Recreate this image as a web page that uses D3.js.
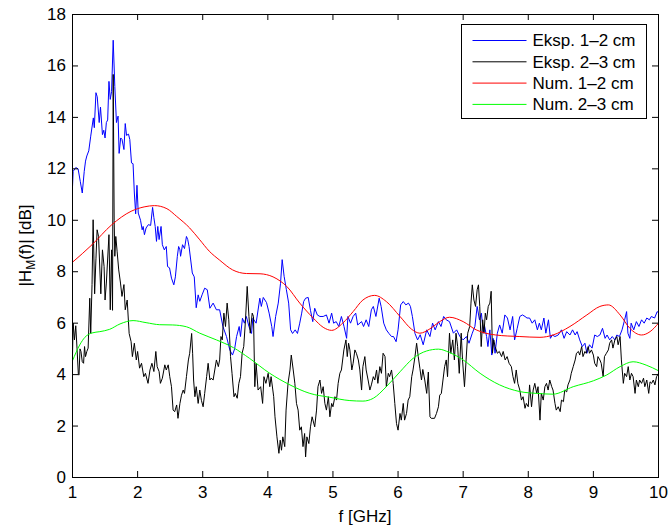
<!DOCTYPE html>
<html>
<head>
<meta charset="utf-8">
<script src="https://cdn.jsdelivr.net/npm/d3@7"></script>
<style>
  body { margin: 0; background: #fff; }
  text { font-family: "Liberation Sans", Arial, Helvetica, sans-serif; fill: #000; }
  .tick text { font-size: 17px; }
  .label { font-size: 17px; }
  .legend text { font-size: 17px; }
</style>
</head>
<body>
<div class="svg-container"></div>
<script>
var height = 529;
var width = 671;

var padding = { "top": 14,
                "right": 13,
                "bottom": 52,
                "left": 72 };

var plotW = 586;
var plotH = 463;

// axis ticks
var xTicks = [1, 2, 3, 4, 5, 6, 7, 8, 9, 10];
var yTicks = [0, 2, 4, 6, 8, 10, 12, 14, 16, 18];

var seriesNames = ["Eksp. 1\u20132 cm", "Eksp. 2\u20133 cm", "Num. 1\u20132 cm", "Num. 2\u20133 cm"];
var seriesColors = ["#0000ff", "#000000", "#ff0000", "#00ff00"];

// measured, 1-2 cm  [f GHz, dB]
var eksp12 = [[1.00,11.3],[1.01,11.9],[1.05,12.05],[1.086,12.0],[1.12,11.5],[1.15,11.06],[1.18,11.9],[1.20,12.3],[1.22,12.5],[1.25,12.7],
  [1.28,13.27],[1.32,13.98],[1.335,13.6],[1.36,14.96],[1.38,14.8],[1.41,13.8],[1.43,14.4],[1.46,13.33],[1.48,13.5],[1.50,13.2],
  [1.52,13.8],[1.54,13.9],[1.56,15.4],[1.58,14.7],[1.60,15.0],[1.625,17.0],[1.65,15.2],[1.675,13.8],[1.70,14.05],[1.716,12.6],
  [1.74,13.2],[1.76,13.15],[1.79,12.75],[1.81,13.76],[1.83,13.3],[1.86,13.35],[1.88,13.14],[1.906,12.23],[1.93,12.2],[1.95,11.06],
  [1.97,10.25],[1.99,11.36],[2.01,10.28],[2.045,10.0],[2.07,9.63],[2.085,9.76],[2.105,9.44],[2.13,9.7],[2.165,9.83],[2.20,9.8],
  [2.23,10.5],[2.25,10.1],[2.27,9.76],[2.29,9.18],[2.31,9.76],[2.33,9.25],[2.36,9.76],[2.38,9.05],[2.41,8.85],[2.44,8.98],
  [2.46,8.2],[2.49,8.15],[2.52,7.75],[2.556,7.49],[2.58,7.8],[2.61,8.6],[2.63,8.98],[2.65,8.85],[2.66,8.6],[2.69,9.05],
  [2.72,8.9],[2.75,9.37],[2.77,9.25],[2.79,8.98],[2.84,7.95],[2.87,7.8],[2.90,6.6],[2.93,7.1],[2.955,6.85],[2.99,7.1],
  [3.03,7.36],[3.07,7.3],[3.11,6.58],[3.16,6.78],[3.21,6.52],[3.26,6.52],[3.31,5.87],[3.365,5.48],[3.416,4.96],[3.457,4.76],
  [3.49,5.0],[3.52,5.48],[3.56,5.87],[3.58,5.48],[3.61,6.19],[3.64,6.0],[3.67,6.26],[3.71,5.87],[3.75,5.6],[3.77,6.19],
  [3.82,6.0],[3.877,6.97],[3.90,6.65],[3.93,7.0],[3.98,6.8],[4.02,6.39],[4.06,5.87],[4.08,5.48],[4.12,6.26],[4.16,6.78],
  [4.195,7.55],[4.22,8.47],[4.25,7.82],[4.285,7.3],[4.32,6.78],[4.35,5.74],[4.38,5.6],[4.42,5.74],[4.455,5.6],[4.49,6.0],
  [4.52,6.39],[4.55,6.84],[4.58,6.97],[4.62,7.0],[4.655,6.5],[4.69,6.06],[4.72,6.58],[4.76,6.32],[4.80,6.26],[4.85,6.26],
  [4.90,6.32],[4.94,6.0],[4.98,6.39],[5.01,6.0],[5.05,6.06],[5.09,5.87],[5.13,6.26],[5.17,5.87],[5.21,5.41],[5.23,6.26],
  [5.27,6.0],[5.31,6.26],[5.35,6.39],[5.38,5.93],[5.44,6.06],[5.47,5.87],[5.51,6.13],[5.55,5.87],[5.59,6.52],[5.62,6.65],
  [5.66,6.26],[5.71,6.97],[5.74,6.65],[5.78,6.0],[5.82,5.74],[5.86,5.6],[5.90,5.48],[5.93,5.48],[5.97,5.28],[6.00,5.74],
  [6.04,6.71],[6.08,6.84],[6.12,6.71],[6.16,6.78],[6.19,6.65],[6.22,6.26],[6.26,5.6],[6.30,5.35],[6.34,5.55],[6.386,5.16],
  [6.44,5.74],[6.49,5.48],[6.53,6.0],[6.57,5.74],[6.62,6.06],[6.66,5.87],[6.70,6.26],[6.74,6.13],[6.79,6.06],[6.85,5.61],
  [6.90,5.74],[6.95,5.48],[7.00,5.35],[7.05,5.48],[7.09,5.22],[7.14,5.61],[7.18,5.87],[7.215,6.65],[7.25,6.13],[7.28,6.39],
  [7.31,5.61],[7.33,5.87],[7.36,5.48],[7.38,5.09],[7.41,5.74],[7.44,4.76],[7.46,5.41],[7.49,4.83],[7.525,5.61],[7.56,5.93],
  [7.60,5.61],[7.64,6.32],[7.68,6.2],[7.72,5.74],[7.76,6.26],[7.79,5.35],[7.83,5.8],[7.87,6.26],[7.91,6.32],[7.95,6.26],
  [7.98,6.2],[8.02,6.2],[8.06,6.0],[8.10,6.13],[8.14,5.74],[8.17,6.0],[8.20,5.74],[8.24,6.2],[8.27,5.61],[8.31,6.13],
  [8.34,5.41],[8.37,5.54],[8.41,5.48],[8.46,5.54],[8.51,5.74],[8.55,5.41],[8.59,5.67],[8.64,5.54],[8.68,5.74],[8.72,5.54],
  [8.75,5.67],[8.79,5.35],[8.83,5.09],[8.87,5.22],[8.90,4.83],[8.94,5.16],[8.98,5.03],[9.02,5.54],[9.06,5.48],[9.10,5.54],
  [9.14,5.8],[9.18,5.41],[9.21,5.54],[9.25,5.35],[9.29,5.48],[9.33,5.35],[9.36,5.54],[9.40,5.48],[9.44,5.74],[9.48,6.13],
  [9.51,6.45],[9.53,5.61],[9.56,5.41],[9.58,6.0],[9.62,5.74],[9.66,6.06],[9.70,5.87],[9.74,6.13],[9.78,6.0],[9.82,6.2],
  [9.86,6.13],[9.89,6.26],[9.94,6.2],[9.98,6.45],[10.0,6.4]];

// measured, 2-3 cm
var eksp23 = [[1.00,4.76],[1.01,6.0],[1.03,5.35],[1.05,5.9],[1.07,5.0],[1.09,4.0],[1.10,3.98],[1.115,5.0],[1.13,4.9],[1.15,4.5],
  [1.17,4.44],[1.185,5.09],[1.20,4.7],[1.22,4.9],[1.24,5.03],[1.265,6.97],[1.28,5.6],[1.30,7.5],[1.317,10.02],[1.34,7.14],
  [1.36,8.5],[1.378,9.63],[1.40,9.37],[1.435,7.14],[1.46,8.85],[1.485,8.2],[1.50,6.9],[1.52,7.56],[1.56,9.44],[1.58,6.52],
  [1.60,8.85],[1.615,6.5],[1.625,15.67],[1.64,10.0],[1.65,8.6],[1.665,9.37],[1.685,8.8],[1.71,8.07],[1.737,7.56],[1.76,7.04],
  [1.79,7.5],[1.81,6.52],[1.84,6.9],[1.87,5.6],[1.90,5.28],[1.92,4.7],[1.95,5.22],[1.98,4.57],[2.00,4.9],[2.03,4.25],
  [2.06,4.44],[2.095,3.92],[2.12,4.05],[2.16,3.66],[2.19,4.18],[2.22,4.44],[2.25,4.12],[2.28,4.9],[2.30,4.31],[2.33,4.12],
  [2.35,3.66],[2.38,3.86],[2.418,4.38],[2.44,4.18],[2.47,4.38],[2.494,3.92],[2.52,3.53],[2.545,2.62],[2.57,2.56],[2.60,2.82],
  [2.62,2.3],[2.65,2.88],[2.674,3.2],[2.70,3.4],[2.72,3.27],[2.75,3.92],[2.78,4.57],[2.80,4.83],[2.83,5.6],[2.845,4.83],
  [2.86,3.79],[2.88,3.14],[2.90,3.53],[2.93,2.88],[2.955,3.4],[2.98,3.0],[3.006,2.75],[3.03,3.27],[3.06,3.92],[3.083,4.44],
  [3.11,3.79],[3.13,3.86],[3.16,3.79],[3.185,4.18],[3.21,4.57],[3.24,4.31],[3.26,4.57],[3.28,5.48],[3.30,5.35],[3.325,6.39],
  [3.35,5.87],[3.375,6.78],[3.40,6.13],[3.427,4.7],[3.45,4.05],[3.48,3.14],[3.50,3.27],[3.53,3.08],[3.555,3.66],[3.58,3.92],
  [3.605,4.83],[3.63,5.09],[3.657,6.13],[3.683,7.43],[3.71,6.26],[3.73,5.61],[3.76,6.39],[3.78,6.26],[3.80,3.53],[3.82,4.44],
  [3.85,3.4],[3.89,3.53],[3.92,2.88],[3.94,3.92],[3.97,3.66],[4.005,4.05],[4.03,3.53],[4.05,3.92],[4.09,3.14],[4.11,2.36],
  [4.14,1.58],[4.17,0.94],[4.19,1.45],[4.21,1.06],[4.23,1.58],[4.26,1.2],[4.28,2.62],[4.31,3.66],[4.34,4.18],[4.36,4.76],
  [4.39,4.18],[4.415,3.66],[4.44,2.88],[4.465,2.62],[4.49,1.84],[4.515,1.97],[4.54,1.2],[4.565,1.71],[4.58,0.8],[4.60,1.58],
  [4.63,1.32],[4.655,1.97],[4.68,2.36],[4.72,1.97],[4.748,2.62],[4.77,3.53],[4.80,3.79],[4.825,3.27],[4.85,3.53],[4.876,2.88],
  [4.90,2.62],[4.93,3.14],[4.953,2.36],[4.98,2.88],[5.00,2.75],[5.03,3.14],[5.055,3.01],[5.08,3.66],[5.106,4.05],[5.13,4.18],
  [5.168,4.96],[5.20,5.35],[5.22,4.7],[5.24,5.22],[5.26,4.96],[5.29,4.18],[5.31,4.44],[5.337,4.96],[5.36,4.83],[5.39,4.57],
  [5.413,4.18],[5.44,3.4],[5.46,4.31],[5.49,4.7],[5.51,4.18],[5.54,3.79],[5.567,3.4],[5.59,3.6],[5.62,3.92],[5.643,3.79],
  [5.67,4.18],[5.69,3.66],[5.72,4.31],[5.745,4.05],[5.77,4.83],[5.80,4.7],[5.82,3.53],[5.85,4.05],[5.87,3.92],[5.90,4.18],
  [5.925,3.66],[5.95,2.88],[5.976,2.1],[6.00,1.84],[6.03,2.49],[6.05,2.23],[6.08,2.88],[6.10,2.23],[6.13,2.49],[6.155,3.01],
  [6.18,3.14],[6.21,3.92],[6.23,4.18],[6.26,4.7],[6.285,5.22],[6.31,4.7],[6.335,4.25],[6.36,3.79],[6.38,4.2],[6.41,3.79],
  [6.44,3.27],[6.465,4.1],[6.49,2.36],[6.51,2.3],[6.56,2.3],[6.59,2.49],[6.62,2.75],[6.64,3.2],[6.665,3.27],[6.69,3.79],
  [6.715,4.31],[6.74,4.57],[6.76,3.92],[6.79,5.61],[6.81,4.83],[6.84,5.35],[6.865,4.57],[6.89,5.61],[6.915,5.09],[6.94,4.05],
  [6.97,5.61],[6.99,4.57],[7.02,3.53],[7.045,4.57],[7.07,5.61],[7.10,5.87],[7.12,6.78],[7.14,7.49],[7.165,6.9],[7.19,6.65],
  [7.215,7.3],[7.235,7.49],[7.255,6.65],[7.277,5.09],[7.30,6.13],[7.32,5.61],[7.34,6.39],[7.36,6.13],[7.385,6.65],[7.41,6.78],
  [7.43,7.24],[7.45,4.83],[7.47,5.35],[7.49,5.09],[7.525,4.83],[7.555,4.9],[7.59,4.7],[7.615,4.9],[7.645,4.57],[7.675,4.7],
  [7.705,4.44],[7.74,4.31],[7.765,3.92],[7.79,3.66],[7.815,4.18],[7.84,3.66],[7.87,3.4],[7.895,3.01],[7.92,3.14],[7.95,2.69],
  [7.97,2.88],[8.00,2.75],[8.02,3.6],[8.05,2.75],[8.075,3.4],[8.10,3.66],[8.13,3.27],[8.15,3.53],[8.18,2.23],[8.20,3.27],
  [8.23,3.01],[8.255,3.53],[8.28,3.66],[8.305,3.4],[8.33,3.79],[8.36,3.53],[8.38,3.4],[8.41,2.88],[8.43,2.62],[8.46,2.75],
  [8.49,2.56],[8.51,3.01],[8.54,2.95],[8.56,3.4],[8.59,3.33],[8.61,3.6],[8.64,3.79],[8.66,4.05],[8.69,4.31],[8.72,4.57],
  [8.74,4.83],[8.77,4.9],[8.79,4.76],[8.82,5.09],[8.84,4.7],[8.87,4.9],[8.89,4.83],[8.92,5.09],[8.94,4.83],[8.97,4.96],
  [9.00,4.76],[9.02,4.44],[9.05,4.31],[9.07,4.7],[9.10,4.57],[9.12,4.44],[9.15,3.92],[9.17,4.7],[9.20,4.83],[9.23,4.96],
  [9.25,5.22],[9.28,5.35],[9.30,5.03],[9.33,5.35],[9.36,5.48],[9.38,5.16],[9.41,5.48],[9.43,4.57],[9.46,3.66],[9.48,4.05],
  [9.51,3.92],[9.535,4.31],[9.56,3.79],[9.585,4.05],[9.61,3.92],[9.64,3.27],[9.66,3.79],[9.69,3.53],[9.71,3.79],[9.74,3.66],
  [9.77,3.86],[9.79,3.53],[9.82,3.79],[9.85,3.27],[9.87,3.72],[9.895,3.66],[9.92,3.79],[9.945,3.6],[9.97,3.92],[10.0,4.05]];

// simulated, 1-2 cm
var num12 = [[1.0,8.37],[1.3,9.05],[1.6,9.82],[1.9,10.35],[2.1,10.52],[2.26,10.57],[2.45,10.45],[2.6,10.15],[2.8,9.7],[2.955,9.24],
  [3.1,8.8],[3.26,8.45],[3.46,8.07],[3.67,7.93],[3.88,7.92],[4.08,7.8],[4.2,7.62],[4.29,7.43],[4.49,6.78],[4.7,6.19],
  [4.85,5.84],[4.98,5.72],[5.15,6.0],[5.31,6.45],[5.46,6.9],[5.64,7.08],[5.82,6.84],[6.03,6.26],[6.21,5.76],[6.335,5.61],
  [6.49,5.78],[6.64,6.06],[6.79,6.23],[7.0,6.06],[7.2,5.74],[7.5,5.54],[7.87,5.48],[8.18,5.45],[8.38,5.54],[8.64,5.87],
  [8.9,6.32],[9.1,6.65],[9.23,6.71],[9.41,6.32],[9.56,5.8],[9.74,5.54],[9.87,5.67],[10.0,6.0]];

// simulated, 2-3 cm
var num23 = [[1.0,4.54],[1.11,5.15],[1.19,5.45],[1.3,5.62],[1.42,5.67],[1.57,5.76],[1.73,5.97],[1.93,6.1],[2.13,6.02],[2.34,5.94],
  [2.54,5.93],[2.75,5.86],[2.955,5.61],[3.21,5.35],[3.47,5.05],[3.72,4.63],[4.03,4.05],[4.34,3.6],[4.645,3.27],[4.95,3.12],
  [5.26,2.99],[5.46,2.97],[5.62,3.08],[5.82,3.53],[6.03,4.11],[6.23,4.63],[6.44,4.92],[6.62,4.99],[6.79,4.86],[7.0,4.57],
  [7.26,4.05],[7.56,3.6],[7.87,3.34],[8.13,3.27],[8.38,3.24],[8.69,3.53],[9.0,3.76],[9.2,3.98],[9.41,4.31],[9.61,4.5],
  [9.81,4.37],[10.0,4.15]];

var allSeries = [eksp12, eksp23, num12, num23];

// creating svg canvas
var svgRoot = d3.select(".svg-container")
              .append("svg")
              .attr("height", height)
              .attr("width", width);

var svg = svgRoot.append("g")
              .attr("transform", "translate(" + padding.left + "," + padding.top + ")");

var scaleX = d3.scaleLinear()
            .domain([1, 10])
            .range([0, plotW]);

var scaleY = d3.scaleLinear()
            .domain([0, 18])
            .range([plotH, 0]);

// data lines
var line = d3.line()
             .x(function(d) { return scaleX(d[0]) + 0.5 })
             .y(function(d) { return scaleY(d[1]) + 0.5 });

allSeries.forEach(function(data, i) {
    var l = i < 2 ? line : line.curve(d3.curveMonotoneX);
    svg.append("path")
        .datum(data)
        .attr("fill", "none")
        .attr("stroke", seriesColors[i])
        .attr("stroke-width", 1)
        .attr("stroke-linejoin", "round")
        .attr("d", l);
    line.curve(d3.curveLinear);
});

// axes, ticks pointing inward like matlab
svg.append("g")
    .attr("transform", "translate(0," + plotH + ")")
    .call(d3.axisBottom(scaleX).tickValues(xTicks).tickSize(-6).tickSizeOuter(0).tickPadding(9));

svg.append("g")
    .call(d3.axisTop(scaleX).tickValues(xTicks).tickSize(-6).tickSizeOuter(0).tickFormat(""));

svg.append("g")
    .call(d3.axisLeft(scaleY).tickValues(yTicks).tickSize(-6).tickSizeOuter(0).tickPadding(6));

svg.append("g")
    .attr("transform", "translate(" + plotW + ",0)")
    .call(d3.axisRight(scaleY).tickValues(yTicks).tickSize(-6).tickSizeOuter(0).tickFormat(""));

svg.selectAll(".domain").remove();
svg.selectAll(".tick line").attr("stroke", "#000");

svg.append("rect")
    .attr("x", 0.5)
    .attr("y", 0.5)
    .attr("width", plotW)
    .attr("height", plotH)
    .attr("fill", "none")
    .attr("stroke", "#000")
    .attr("stroke-width", 1);

// axis labels
svg.append("text")
    .attr("class", "label")
    .attr("x", plotW / 2)
    .attr("y", plotH + 45)
    .attr("text-anchor", "middle")
    .text("f [GHz]");

var yl = svg.append("text")
    .attr("class", "label")
    .attr("transform", "translate(-41," + (plotH / 2) + ") rotate(-90)")
    .attr("text-anchor", "middle");
yl.append("tspan").text("|H");
yl.append("tspan").attr("dy", 4).style("font-size", "12px").text("M");
yl.append("tspan").attr("dy", -4).text("(f)| [dB]");

// legend
var legend = svgRoot.append("g")
    .attr("class", "legend")
    .attr("transform", "translate(461.5,24.5)");

legend.append("rect")
    .attr("width", 185)
    .attr("height", 94)
    .attr("fill", "#fff")
    .attr("stroke", "#000")
    .attr("stroke-width", 1);

seriesNames.forEach(function(name, i) {
    var yy = 16 + i * 21.3;
    legend.append("line")
        .attr("x1", 11)
        .attr("x2", 65)
        .attr("y1", yy)
        .attr("y2", yy)
        .attr("stroke", seriesColors[i])
        .attr("stroke-width", 1);
    legend.append("text")
        .attr("x", 71)
        .attr("y", yy)
        .attr("dy", "0.35em")
        .text(name);
});
</script>
</body>
</html>
